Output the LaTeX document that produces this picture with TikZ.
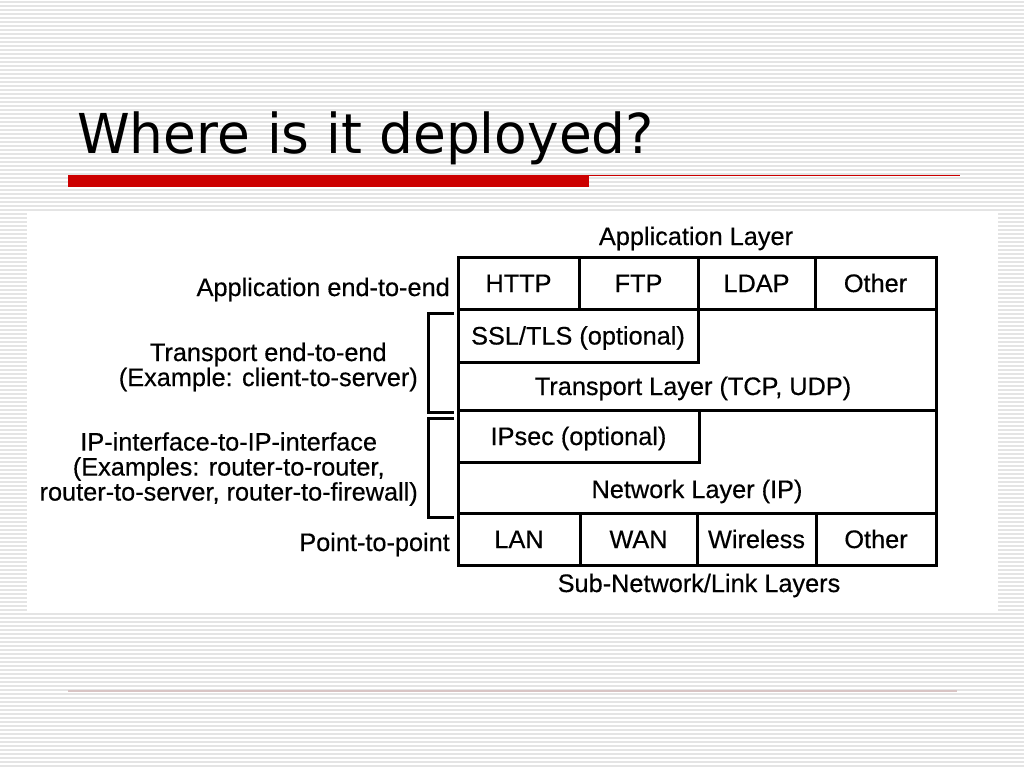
\documentclass[tikz,border=0pt]{standalone}
\usepackage{fontspec}
\setmainfont{Liberation Sans}
\newfontfamily\scanfont[FakeBold=0.4]{Liberation Sans}
\newfontfamily\titlefont{DejaVu Sans}
\definecolor{slidered}{HTML}{CC0000}
\definecolor{stripegray}{HTML}{E4E4E4}
\definecolor{footline}{HTML}{D8C4C4}
\def\figfont{\scanfont\fontsize{25.3}{25}\selectfont}
\tikzset{
	cell/.style={draw, line width=3pt, inner sep=0pt, font=\figfont, text height=18pt, text depth=0pt},
	txt/.style={inner sep=0pt, font=\figfont},
	bracket/.style={line width=3pt},
}

\begin{document}
\begin{tikzpicture}[x=1pt, y=-1pt]
		%%%%% START %%%%%
		\useasboundingbox (0,0) rectangle (1024,768);
		\fill[white] (0,0) rectangle (1024,768);
		\foreach \y in {2,6,...,766}
			\draw[stripegray, line width=1.5pt] (0,\y) -- (1024,\y);
		\fill[white] (27,213) rectangle (998,612);
		
		\node[anchor=base west, inner sep=0pt, font=\titlefont\fontsize{55}{60}\selectfont, xscale=0.97] (title) at (77,153) {Where is it deployed?};
		\fill[slidered] (68,175) rectangle (589,187);
		\draw[slidered, line width=1.2pt] (589,175.6) -- (960,175.6);
		\draw[footline, line width=1.5pt] (68,691) -- (957,691);
		
		\node[txt, anchor=base] (applayer) at (696,245) {Application Layer};
		\node[cell, minimum width=121pt, minimum height=52pt] (http) at (518.5,283) {HTTP};
		\node[cell, minimum width=119pt, minimum height=52pt] (ftp) at (638.5,283) {FTP};
		\node[cell, minimum width=117pt, minimum height=52pt] (ldap) at (756.5,283) {LDAP};
		\node[cell, minimum width=121pt, minimum height=52pt] (appother) at (875.5,283) {Other};
		
		\node[cell, minimum width=478pt, minimum height=101pt] (tcpbox) at (697,359.5) {};
		\node[cell, minimum width=240pt, minimum height=53pt] (ssl) at (578,335.5) {SSL/TLS (optional)};
		\node[txt, text height=18pt, text depth=0pt] (tcp) at (693,386) {Transport Layer (TCP, UDP)};
		
		\node[cell, minimum width=478pt, minimum height=103pt] (ipbox) at (697,461.5) {};
		\node[cell, minimum width=241pt, minimum height=52pt] (ipsec) at (578.5,436) {IPsec (optional)};
		\node[txt, text height=18pt, text depth=0pt] (ip) at (697,489) {Network Layer (IP)};
		
		\node[cell, minimum width=122pt, minimum height=52pt] (lan) at (519,539) {LAN};
		\node[cell, minimum width=117pt, minimum height=52pt] (wan) at (638.5,539) {WAN};
		\node[cell, minimum width=119pt, minimum height=52pt] (wireless) at (756.5,539) {Wireless};
		\node[cell, minimum width=120pt, minimum height=52pt] (linkother) at (876,539) {Other};
		\node[txt, anchor=base] (linklayer) at (699,592) {Sub-Network/Link Layers};
		
		\node[txt, anchor=base east] (append) at (450,296) {Application end-to-end};
		\node[txt, anchor=east, align=center] (tcpend) at (418,367) {Transport end-to-end\\(Example: client-to-server)};
		\node[txt, anchor=east, align=center] (ipend) at (418,469) {IP-interface-to-IP-interface\\(Examples: router-to-router,\\router-to-server, router-to-firewall)};
		\node[txt, anchor=base east] (ptp) at (450,551) {Point-to-point};
		
		\coordinate (tcptop) at (454,313);
		\coordinate (tcpbot) at (454,412);
		\coordinate (iptop) at (454,418);
		\coordinate (ipbot) at (454,517);
		\draw[bracket] (tcptop) -- ++(-26,0) |- (tcpbot);
		\draw[bracket] (iptop) -- ++(-26,0) |- (ipbot);
		%%%%% END %%%%%
\end{tikzpicture}
\end{document}
